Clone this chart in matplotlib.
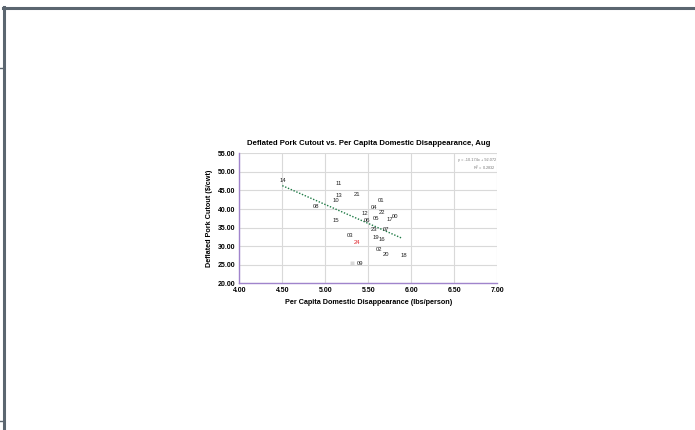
import matplotlib
matplotlib.use("Agg")
import matplotlib.pyplot as plt
from matplotlib.lines import Line2D

plt.rcParams['font.family'] = ['Liberation Sans', 'DejaVu Sans']

# ── data: year labels, per-capita disappearance (lbs/person), deflated cutout ($/cwt) ──
years = ["14", "11", "13", "10", "21", "08", "01", "04", "22", "12", "05", "17",
         "00", "15", "06", "23", "07", "03", "19", "16", "24", "02", "20", "18", "09"]
disappearance = [4.51, 5.16, 5.16, 5.12, 5.37, 4.89, 5.65, 5.57, 5.66, 5.46, 5.59, 5.75,
                 5.81, 5.12, 5.48, 5.57, 5.71, 5.29, 5.59, 5.66, 5.37, 5.62, 5.71, 5.91, 5.40]
cutout = [47.8, 46.8, 43.6, 42.3, 44.0, 40.8, 42.3, 40.5, 39.1, 38.9, 37.5, 37.3,
          38.0, 37.0, 36.8, 34.5, 34.4, 33.0, 32.4, 31.7, 31.0, 29.2, 27.7, 27.4, 25.4]
highlight = "24"

# Excel trendline as shown on the chart
slope, intercept, r2 = -10.174, 92.072, 0.2832
trend_x = [4.50, 5.89]

fig = plt.figure(figsize=(6.95, 4.30), dpi=100)

# outer frame of the screenshot
fig.add_artist(Line2D([3.5 / 695, 1.0], [1 - 8 / 430, 1 - 8 / 430], transform=fig.transFigure,
                      color="#5b6670", lw=2.2))
fig.add_artist(Line2D([4 / 695, 4 / 695], [0, 1 - 7 / 430], transform=fig.transFigure,
                      color="#5b6670", lw=2.2))
for yy in (68, 421):
    fig.add_artist(Line2D([0, 2.5 / 695], [1 - yy / 430, 1 - yy / 430], transform=fig.transFigure,
                          color="#5b6670", lw=1.0))

ax = fig.add_axes([239.3 / 695, 1 - 283.3 / 430, 258 / 695, 130 / 430])

# labels only (markers hidden), 09 keeps its faint marker
for yr, xv, yv in zip(years, disappearance, cutout):
    col = "#e0282e" if yr == highlight else "#222222"
    if yr == "09":
        ax.plot(xv - 0.09, yv, marker="s", ms=2.2, color="#d8d8d8", mec="none")
    ax.text(xv, yv, yr, fontsize=4.2, color=col, ha="center", va="center")

ty = [slope * x + intercept for x in trend_x]
ax.plot(trend_x, ty, color="#1e7a45", lw=1.0, linestyle=(0, (1, 1.2)))

ax.text(0.995, 0.96, f"y = {slope}x + {intercept}\nR$^2$ = {r2}", transform=ax.transAxes,
        fontsize=2.8, color="#777777", ha="right", va="top", linespacing=1.25)

ax.set_xlim(4.0, 7.0)
ax.set_ylim(20.0, 55.0)
ax.set_xticks([4.0, 4.5, 5.0, 5.5, 6.0, 6.5, 7.0])
ax.set_yticks([20, 25, 30, 35, 40, 45, 50, 55])
ax.set_xticklabels([f"{v:.2f}" for v in ax.get_xticks()])
ax.set_yticklabels([f"{v:.2f}" for v in ax.get_yticks()])
ax.tick_params(length=0, labelsize=5, pad=3)
for lab in ax.get_xticklabels() + ax.get_yticklabels():
    lab.set_fontweight("bold")

ax.grid(True, color="#d9d9d9", lw=0.8)
ax.set_axisbelow(True)
for side in ("top", "right"):
    ax.spines[side].set_visible(False)
for side in ("left", "bottom"):
    ax.spines[side].set_color("#a084cc")
    ax.spines[side].set_linewidth(1.0)

ax.set_title("Deflated Pork Cutout vs. Per Capita Domestic Disappearance, Aug",
             fontsize=5.6, fontweight="bold", pad=6)
ax.set_xlabel("Per Capita Domestic Disappearance (lbs/person)", fontsize=5.2,
              fontweight="bold", labelpad=3)
ax.set_ylabel("Deflated Pork Cutout ($/cwt)", fontsize=5.2, fontweight="bold", labelpad=3)

fig.savefig("out.png", dpi=100)
